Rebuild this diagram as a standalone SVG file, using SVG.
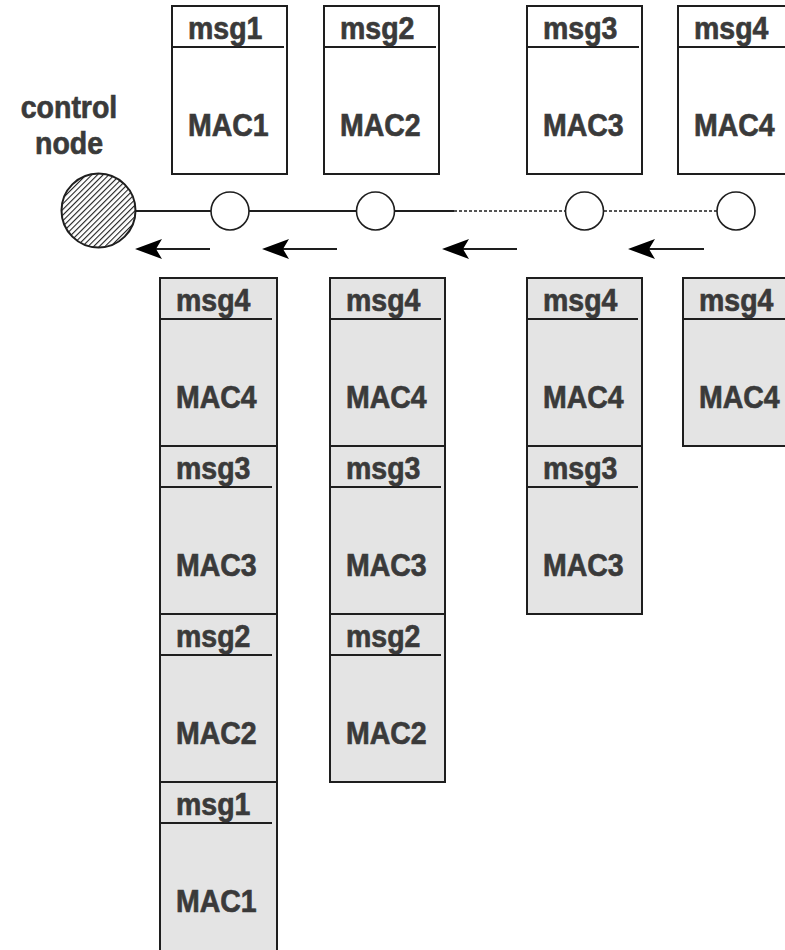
<svg xmlns="http://www.w3.org/2000/svg" width="785" height="950" viewBox="0 0 785 950">
  <style>
    .box { fill: #ffffff; stroke: #1e1e1e; stroke-width: 2; }
    .seg { fill: #e4e4e4; stroke: #1e1e1e; stroke-width: 2; }
    .hdr { stroke: #1e1e1e; stroke-width: 2; }
    .lbl { font-family: "Liberation Sans", Arial, sans-serif; font-weight: bold; font-size: 28.5px; fill: #3a3a3a; stroke: #3a3a3a; stroke-width: 0.6; }
    .relay { fill: #ffffff; stroke: #1e1e1e; stroke-width: 1.6; }
    .link { stroke: #1e1e1e; stroke-width: 2; fill: none; }
    .dotted { stroke: #1e1e1e; stroke-width: 1.6; stroke-dasharray: 3 2; fill: none; }
    .shaft { stroke: #1e1e1e; stroke-width: 2; fill: none; }
    .head { fill: #000000; }
  </style>
  <defs>
    <pattern id="hatch" patternUnits="userSpaceOnUse" width="4" height="4" patternTransform="rotate(45)">
      <rect width="4" height="4" fill="#ffffff"/>
      <line x1="0.5" y1="0" x2="0.5" y2="4" stroke="#1e1e1e" stroke-width="1.2"/>
    </pattern>
    <!-- notched arrowhead pointing left, tip at the origin -->
    <path id="head-arrow" d="M0,0 L27,-10 L21,0 L27,10 Z"/>
  </defs>

  <!-- links between nodes and direction arrows -->
  <g id="connectors">
    <line class="link" x1="136" y1="211" x2="211" y2="211"/>
    <line class="link" x1="249" y1="211" x2="356" y2="211"/>
    <line class="link" x1="395" y1="211" x2="454" y2="211"/>
    <line class="dotted" x1="454" y1="211" x2="565" y2="211"/>
    <line class="dotted" x1="604" y1="211" x2="717" y2="211"/>

    <line class="shaft" x1="155" y1="249" x2="210" y2="249"/>
    <use href="#head-arrow" class="head" x="135" y="249"/>
    <line class="shaft" x1="282" y1="249" x2="337" y2="249"/>
    <use href="#head-arrow" class="head" x="262" y="249"/>
    <line class="shaft" x1="462" y1="249" x2="517" y2="249"/>
    <use href="#head-arrow" class="head" x="442" y="249"/>
    <line class="shaft" x1="648" y1="249" x2="704" y2="249"/>
    <use href="#head-arrow" class="head" x="628" y="249"/>
  </g>

  <!-- control node -->
  <g id="control-node">
    <text class="lbl" transform="translate(69 118) scale(1 1.13)" text-anchor="middle">control</text>
    <text class="lbl" transform="translate(69 154) scale(1 1.13)" text-anchor="middle">node</text>
    <circle cx="98.5" cy="210.5" r="37" fill="url(#hatch)" stroke="#1e1e1e" stroke-width="2"/>
  </g>

  <!-- relay nodes on the chain -->
  <g id="node1"><circle class="relay" cx="230" cy="211" r="19"/></g>
  <g id="node2"><circle class="relay" cx="375.5" cy="211" r="19"/></g>
  <g id="node3"><circle class="relay" cx="584.5" cy="211" r="19"/></g>
  <g id="node4"><circle class="relay" cx="736" cy="211" r="19"/></g>

  <!-- messages originated at each node -->
  <g id="origin-msg1">
    <rect class="box" x="172" y="6" width="115" height="168"/>
    <line class="hdr" x1="172" y1="47" x2="284" y2="47"/>
    <text class="lbl" transform="translate(188 39) scale(1 1.13)">msg1</text>
    <text class="lbl" transform="translate(188 136) scale(1 1.13)">MAC1</text>
  </g>
  <g id="origin-msg2">
    <rect class="box" x="324" y="6" width="115" height="168"/>
    <line class="hdr" x1="324" y1="47" x2="436" y2="47"/>
    <text class="lbl" transform="translate(340 39) scale(1 1.13)">msg2</text>
    <text class="lbl" transform="translate(340 136) scale(1 1.13)">MAC2</text>
  </g>
  <g id="origin-msg3">
    <rect class="box" x="527" y="6" width="115" height="168"/>
    <line class="hdr" x1="527" y1="47" x2="639" y2="47"/>
    <text class="lbl" transform="translate(543 39) scale(1 1.13)">msg3</text>
    <text class="lbl" transform="translate(543 136) scale(1 1.13)">MAC3</text>
  </g>
  <g id="origin-msg4">
    <rect class="box" x="678" y="6" width="115" height="168"/>
    <line class="hdr" x1="678" y1="47" x2="790" y2="47"/>
    <text class="lbl" transform="translate(694 39) scale(1 1.13)">msg4</text>
    <text class="lbl" transform="translate(694 136) scale(1 1.13)">MAC4</text>
  </g>

  <!-- aggregated stacks forwarded towards the control node -->
  <g id="stack-node1">
    <rect class="seg" x="160" y="278" width="117" height="168"/>
    <line class="hdr" x1="160" y1="319" x2="272" y2="319"/>
    <text class="lbl" transform="translate(176 311) scale(1 1.13)">msg4</text>
    <text class="lbl" transform="translate(176 408) scale(1 1.13)">MAC4</text>
    <rect class="seg" x="160" y="446" width="117" height="168"/>
    <line class="hdr" x1="160" y1="487" x2="272" y2="487"/>
    <text class="lbl" transform="translate(176 479) scale(1 1.13)">msg3</text>
    <text class="lbl" transform="translate(176 576) scale(1 1.13)">MAC3</text>
    <rect class="seg" x="160" y="614" width="117" height="168"/>
    <line class="hdr" x1="160" y1="655" x2="272" y2="655"/>
    <text class="lbl" transform="translate(176 647) scale(1 1.13)">msg2</text>
    <text class="lbl" transform="translate(176 744) scale(1 1.13)">MAC2</text>
    <rect class="seg" x="160" y="782" width="117" height="180"/>
    <line class="hdr" x1="160" y1="823" x2="272" y2="823"/>
    <text class="lbl" transform="translate(176 815) scale(1 1.13)">msg1</text>
    <text class="lbl" transform="translate(176 912) scale(1 1.13)">MAC1</text>
  </g>
  <g id="stack-node2">
    <rect class="seg" x="330" y="278" width="115" height="168"/>
    <line class="hdr" x1="330" y1="319" x2="441" y2="319"/>
    <text class="lbl" transform="translate(346 311) scale(1 1.13)">msg4</text>
    <text class="lbl" transform="translate(346 408) scale(1 1.13)">MAC4</text>
    <rect class="seg" x="330" y="446" width="115" height="168"/>
    <line class="hdr" x1="330" y1="487" x2="441" y2="487"/>
    <text class="lbl" transform="translate(346 479) scale(1 1.13)">msg3</text>
    <text class="lbl" transform="translate(346 576) scale(1 1.13)">MAC3</text>
    <rect class="seg" x="330" y="614" width="115" height="168"/>
    <line class="hdr" x1="330" y1="655" x2="441" y2="655"/>
    <text class="lbl" transform="translate(346 647) scale(1 1.13)">msg2</text>
    <text class="lbl" transform="translate(346 744) scale(1 1.13)">MAC2</text>
  </g>
  <g id="stack-node3">
    <rect class="seg" x="527" y="278" width="115" height="168"/>
    <line class="hdr" x1="527" y1="319" x2="638" y2="319"/>
    <text class="lbl" transform="translate(543 311) scale(1 1.13)">msg4</text>
    <text class="lbl" transform="translate(543 408) scale(1 1.13)">MAC4</text>
    <rect class="seg" x="527" y="446" width="115" height="168"/>
    <line class="hdr" x1="527" y1="487" x2="638" y2="487"/>
    <text class="lbl" transform="translate(543 479) scale(1 1.13)">msg3</text>
    <text class="lbl" transform="translate(543 576) scale(1 1.13)">MAC3</text>
  </g>
  <g id="stack-node4">
    <rect class="seg" x="683" y="278" width="115" height="168"/>
    <line class="hdr" x1="683" y1="319" x2="795" y2="319"/>
    <text class="lbl" transform="translate(699 311) scale(1 1.13)">msg4</text>
    <text class="lbl" transform="translate(699 408) scale(1 1.13)">MAC4</text>
  </g>
</svg>
